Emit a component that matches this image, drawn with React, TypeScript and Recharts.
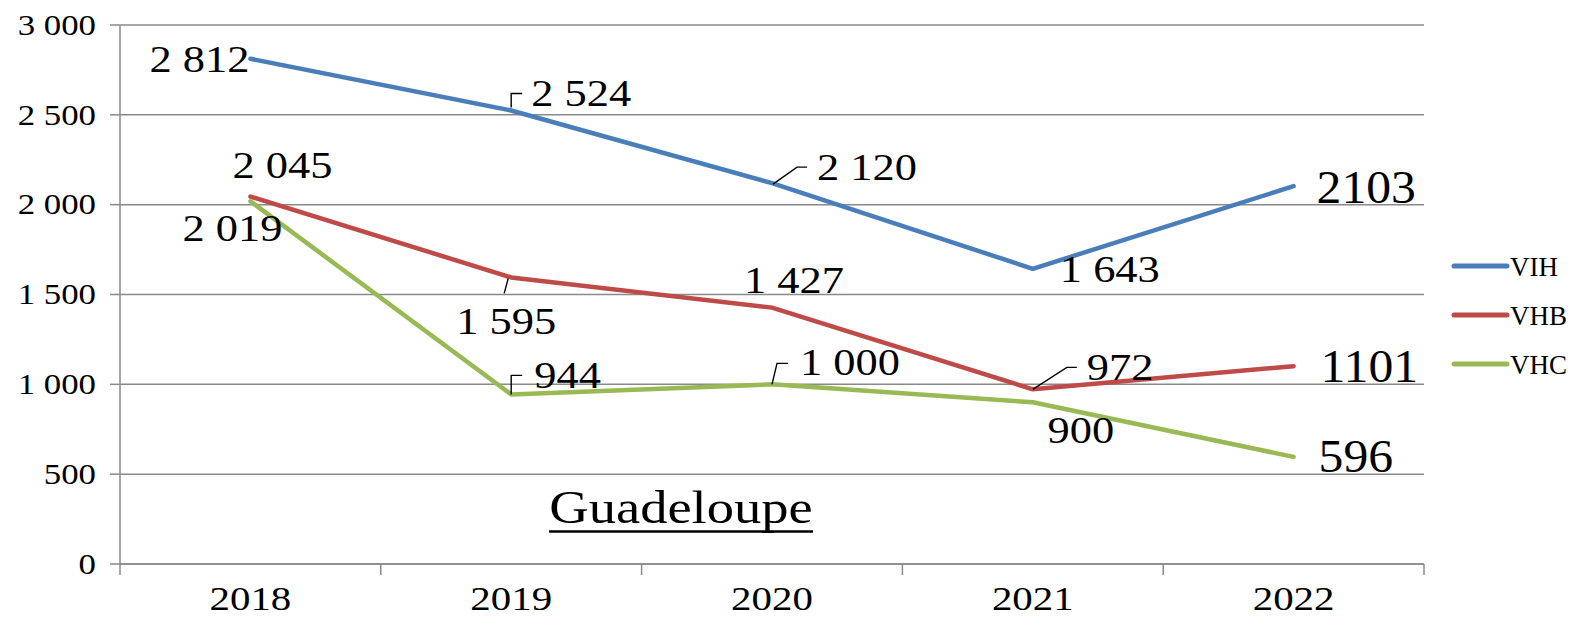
import React from "react"
import { CartesianGrid, Legend, Line, LineChart, XAxis, YAxis } from "recharts"

// values
const years = ["2018", "2019", "2020", "2021", "2022"]
const vih = [2812, 2524, 2120, 1643, 2103]
const vhb = [2045, 1595, 1427, 972, 1101]
const vhc = [2019, 944, 1000, 900, 596]
const yTicks = [0, 500, 1000, 1500, 2000, 2500, 3000]
const slotEdges = [0, 1, 2, 3, 4, 5]
const slotCenters = [0.5, 1.5, 2.5, 3.5, 4.5]

const data = years.map((year, i) => ({ slot: i + 0.5, year, VIH: vih[i], VHB: vhb[i], VHC: vhc[i] }))

const colors: Record<string, string> = { VIH: "#4A7EBB", VHB: "#BE4B48", VHC: "#98B954" }
const FONT = "'Liberation Serif', 'Times New Roman', serif"
const GRID = "#8a8a8a"

type Place = { dx: number; dy: number; anchor: "start" | "middle" | "end"; big?: boolean; leader?: number[][] }

// where each data label sits relative to its point (Excel put them by hand)
const labelPlaces: Record<string, Place[]> = {
  VIH: [
    { dx: -1, dy: 0, anchor: "end" },
    { dx: 20, dy: -17, anchor: "start", leader: [[0, -3], [0, -17], [11, -17]] },
    { dx: 45, dy: -16, anchor: "start", leader: [[1, 1], [25, -16], [35, -16]] },
    { dx: 27, dy: 0, anchor: "start" },
    { dx: 23, dy: 1, anchor: "start", big: true },
  ],
  VHB: [
    { dx: 32, dy: -31, anchor: "middle" },
    { dx: -5, dy: 44, anchor: "middle", leader: [[-3, 1], [-7, 16]] },
    { dx: 22, dy: -27, anchor: "middle" },
    { dx: 54, dy: -22, anchor: "start", leader: [[0, 0], [34, -22], [44, -22]] },
    { dx: 27, dy: 0, anchor: "start", big: true },
  ],
  VHC: [
    { dx: -18, dy: 27, anchor: "middle" },
    { dx: 23, dy: -19, anchor: "start", leader: [[0, 0], [0, -19], [11, -19]] },
    { dx: 28, dy: -22, anchor: "start", leader: [[0, 0], [5, -21], [16, -21]] },
    { dx: 48, dy: 28, anchor: "middle" },
    { dx: 25, dy: 0, anchor: "start", big: true },
  ],
}

const fmt = (v: number) => (v >= 1000 ? `${Math.floor(v / 1000)} ${String(v % 1000).padStart(3, "0")}` : String(v))

// serif text stretched a bit sideways, like the original export
function SText({ x, y, size, sx = 1.17, anchor = "start", children }: any) {
  return (
    <text
      transform={`translate(${x},${y}) scale(${sx},1)`}
      textAnchor={anchor}
      fontFamily={FONT}
      fontSize={size}
      fill="#000"
      style={{ fontFamily: FONT }}
    >
      {children}
    </text>
  )
}

const makeLabel = (key: string) => (props: any) => {
  const { x, y, value, index } = props
  const p = labelPlaces[key][index]
  if (!p || x == null) return null
  const size = p.big ? 46 : 38
  const base = y + p.dy + size * 0.338
  return (
    <g key={`${key}-${index}`}>
      {p.leader && (
        <polyline
          points={p.leader.map(([a, b]) => `${x + a},${y + b}`).join(" ")}
          fill="none"
          stroke="#000"
          strokeWidth={1.4}
        />
      )}
      <SText x={x + p.dx} y={base} size={size} sx={p.big ? 1.08 : 1.17} anchor={p.anchor}>
        {p.big ? String(value) : fmt(value)}
      </SText>
    </g>
  )
}

const YTick = ({ x, y, payload }: any) => (
  <SText x={x} y={y + 29 * 0.338} size={29} sx={1.2} anchor="end">
    {fmt(payload.value)}
  </SText>
)

const YearTick = ({ x, y, payload }: any) => (
  <SText x={x} y={y + 34} size={33} sx={1.24} anchor="middle">
    {years[Math.round(payload.value - 0.5)]}
  </SText>
)

const LegendBox = () => (
  <svg width={130} height={160}>
    {["VIH", "VHB", "VHC"].map((k, i) => (
      <g key={k}>
        <line x1={10} x2={63} y1={18 + i * 49} y2={18 + i * 49} stroke={colors[k]} strokeWidth={5} strokeLinecap="round" />
        <text x={66} y={18 + i * 49 + 10} fontFamily={FONT} fontSize={27} fill="#000">
          {k}
        </text>
      </g>
    ))}
  </svg>
)

export default function App() {
  return (
    <div style={{ position: "absolute", left: 0, top: 0, width: 1580, height: 617, background: "#fff" }}>
      <LineChart width={1580} height={617} data={data} margin={{ top: 25, right: 156, left: 0, bottom: 0 }}>
        <CartesianGrid xAxisId="edge" vertical={false} stroke={GRID} strokeWidth={1.5} />
        <XAxis
          xAxisId="edge"
          dataKey="slot"
          type="number"
          domain={[0, 5]}
          ticks={slotEdges}
          height={12}
          tickSize={11}
          tick={() => <g />}
          stroke={GRID}
          strokeWidth={1.5}
          interval={0}
        />
        <XAxis
          xAxisId="yr"
          dataKey="slot"
          type="number"
          domain={[0, 5]}
          ticks={slotCenters}
          height={41}
          tickSize={0}
          tickMargin={0}
          axisLine={false}
          tickLine={false}
          tick={<YearTick />}
          interval={0}
        />
        <YAxis
          width={120}
          domain={[0, 3000]}
          ticks={yTicks}
          tickSize={10}
          tickMargin={14}
          tick={<YTick />}
          stroke={GRID}
          strokeWidth={1.5}
          interval={0}
        />
        <Legend
          layout="vertical"
          align="center"
          verticalAlign="middle"
          wrapperStyle={{ left: 1444, top: 248, width: 130 }}
          content={() => <LegendBox />}
        />
        {["VIH", "VHB", "VHC"].map((k) => (
          <Line
            key={k}
            xAxisId="edge"
            dataKey={k}
            stroke={colors[k]}
            strokeWidth={4.5}
            strokeLinejoin="round"
            strokeLinecap="round"
            dot={false}
            activeDot={false}
            isAnimationActive={false}
            label={makeLabel(k)}
          />
        ))}
      </LineChart>
      <svg width={1580} height={617} style={{ position: "absolute", left: 0, top: 0, pointerEvents: "none" }}>
        <SText x={681} y={523} size={47} sx={1.16} anchor="middle">
          Guadeloupe
        </SText>
        <line x1={549} x2={813} y1={531.5} y2={531.5} stroke="#000" strokeWidth={2.5} />
      </svg>
    </div>
  )
}
